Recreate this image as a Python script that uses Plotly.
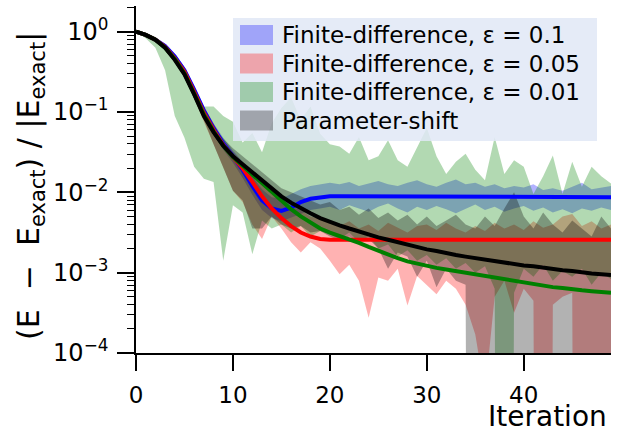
import plotly.graph_objects as go

# ---------------- data (log10 of relative error) ----------------
iterations = list(range(50))

fd01_mean_log10 = [0.00, -0.04, -0.10, -0.18, -0.31, -0.48, -0.72, -0.98, -1.20, -1.39,
                   -1.55, -1.72, -1.92, -2.10, -2.20, -2.23, -2.19, -2.12, -2.08, -2.06,
                   -2.05, -2.05, -2.05, -2.05, -2.05, -2.05, -2.05, -2.05, -2.05, -2.05,
                   -2.05, -2.05, -2.05, -2.05, -2.05, -2.05, -2.06, -2.06, -2.06, -2.06,
                   -2.06, -2.06, -2.06, -2.06, -2.06, -2.06, -2.06, -2.06, -2.06, -2.06]
fd01_hi_log10 = [0.00, -0.02, -0.07, -0.15, -0.27, -0.44, -0.67, -0.93, -1.14, -1.32,
                 -1.48, -1.62, -1.80, -1.96, -2.06, -2.08, -2.02, -1.96, -1.92, -1.90,
                 -1.88, -1.90, -1.87, -1.92, -1.89, -1.86, -1.90, -1.92, -1.88, -1.85,
                 -1.90, -1.93, -1.88, -1.84, -1.90, -1.88, -1.93, -1.90, -1.95, -1.92,
                 -1.94, -1.90, -1.97, -1.95, -1.98, -1.93, -1.88, -1.96, -1.94, -1.92]
fd01_lo_log10 = [0.00, -0.06, -0.13, -0.22, -0.36, -0.53, -0.78, -1.04, -1.27, -1.47,
                 -1.63, -1.82, -2.03, -2.22, -2.32, -2.36, -2.32, -2.27, -2.22, -2.20,
                 -2.18, -2.22, -2.16, -2.20, -2.24, -2.18, -2.14, -2.20, -2.25, -2.18,
                 -2.22, -2.17, -2.21, -2.26, -2.20, -2.15, -2.22, -2.18, -2.24, -2.20,
                 -2.17, -2.23, -2.19, -2.25, -2.21, -2.26, -2.20, -2.23, -2.19, -2.22]

fd005_mean_log10 = [0.00, -0.04, -0.10, -0.19, -0.33, -0.50, -0.75, -1.01, -1.22, -1.41,
                    -1.56, -1.70, -1.87, -2.05, -2.20, -2.32, -2.42, -2.50, -2.55, -2.58,
                    -2.59, -2.59, -2.59, -2.59, -2.59, -2.59, -2.59, -2.59, -2.59, -2.59,
                    -2.59, -2.59, -2.59, -2.59, -2.59, -2.59, -2.59, -2.59, -2.59, -2.59,
                    -2.59, -2.59, -2.59, -2.59, -2.59, -2.59, -2.59, -2.59, -2.59, -2.59]
fd005_hi_log10 = [0.00, -0.02, -0.07, -0.15, -0.28, -0.44, -0.68, -0.93, -1.14, -1.35,
                  -1.50, -1.62, -1.75, -1.90, -2.02, -2.10, -2.18, -2.22, -2.30, -2.33,
                  -2.38, -2.42, -2.36, -2.45, -2.40, -2.48, -2.38, -2.44, -2.50, -2.42,
                  -2.40, -2.47, -2.38, -2.45, -2.50, -2.42, -2.48, -2.38, -2.45, -2.40,
                  -2.47, -2.36, -2.44, -2.40, -2.30, -2.27, -2.42, -2.36, -2.45, -2.40]
fd005_lo_log10 = [0.00, -0.06, -0.13, -0.23, -0.38, -0.57, -0.83, -1.12, -1.40, -1.68,
                  -1.98, -2.12, -2.40, -2.58, -2.30, -2.45, -2.62, -2.75, -2.62, -2.70,
                  -2.85, -3.02, -2.90, -3.10, -3.56, -3.06, -3.10, -2.95, -3.41, -3.04,
                  -3.15, -3.27, -3.10, -3.20, -3.40, -3.77, -4.50, -3.30, -3.10, -3.50,
                  -3.20, -3.35, None, -3.40, -3.30, -3.25, None, None, None, None]

fd001_mean_log10 = [0.00, -0.04, -0.10, -0.20, -0.34, -0.52, -0.77, -1.03, -1.24, -1.42,
                    -1.56, -1.67, -1.77, -1.88, -1.99, -2.10, -2.21, -2.30, -2.38, -2.45,
                    -2.50, -2.54, -2.58, -2.63, -2.68, -2.73, -2.78, -2.82, -2.86, -2.89,
                    -2.92, -2.94, -2.96, -2.98, -3.01, -3.03, -3.05, -3.07, -3.09, -3.11,
                    -3.13, -3.15, -3.16, -3.18, -3.19, -3.21, -3.22, -3.23, -3.24, -3.25]
fd001_hi_log10 = [0.00, -0.02, -0.07, -0.17, -0.32, -0.52, -0.74, -0.93, -0.93, -1.05,
                  -1.12, -1.38, -1.26, -1.50, -1.14, -0.95, -0.82, -1.10, -0.93, -1.27,
                  -1.40, -1.43, -1.52, -1.31, -1.60, -1.55, -1.35, -1.60, -1.68, -1.45,
                  -1.20, -1.55, -1.77, -1.62, -1.52, -1.72, -1.85, -1.31, -1.77, -1.60,
                  -1.68, -2.02, -1.80, -1.54, -2.02, -1.62, -1.93, -1.68, -1.80, -1.89]
fd001_lo_log10 = [0.00, -0.08, -0.20, -0.48, -1.05, -1.32, -1.68, -1.83, -1.87, -2.85,
                  -2.16, -2.25, -2.77, -2.35, -2.45, -2.40, -2.50, -2.42, -2.55, -2.48,
                  -2.52, -2.58, -2.50, -2.62, -2.55, -2.70, -2.65, -2.80, -2.72, -2.85,
                  -2.78, -2.90, -2.82, -2.95, -2.88, -3.00, -2.92, -3.20, None, -3.25,
                  -2.95, -3.05, -2.90, -3.10, -2.98, -3.05, -2.95, -3.15, -3.00, -3.08]

ps_mean_log10 = [0.00, -0.04, -0.10, -0.20, -0.35, -0.53, -0.78, -1.05, -1.25, -1.42,
                 -1.55, -1.65, -1.76, -1.86, -1.96, -2.05, -2.13, -2.20, -2.26, -2.32,
                 -2.37, -2.41, -2.45, -2.49, -2.53, -2.56, -2.59, -2.62, -2.66, -2.69,
                 -2.71, -2.73, -2.76, -2.78, -2.80, -2.82, -2.84, -2.86, -2.87, -2.89,
                 -2.91, -2.92, -2.94, -2.95, -2.97, -2.98, -3.00, -3.01, -3.02, -3.03]
ps_hi_log10 = [0.00, -0.02, -0.07, -0.17, -0.32, -0.50, -0.74, -1.00, -1.18, -1.33,
               -1.45, -1.55, -1.65, -1.75, -1.85, -1.95, -2.00, -2.05, -2.10, -2.15,
               -2.12, -2.22, -2.18, -2.28, -2.20, -2.32, -2.25, -2.35, -2.28, -2.40,
               -2.30, -2.42, -2.35, -2.28, -2.40, -2.45, -2.30, -2.42, -2.20, -2.00,
               -2.30, -2.45, -2.25, -2.40, -2.50, -2.35, -2.45, -2.55, -2.30, -2.45]
ps_lo_log10 = [0.00, -0.06, -0.13, -0.23, -0.38, -0.57, -0.83, -1.10, -1.40, -1.70,
               -1.98, -2.10, -2.45, -2.45, -2.30, -2.40, -2.45, -2.42, -2.50, -2.48,
               -2.55, -2.60, -2.55, -2.62, -2.58, -2.70, -2.95, -2.75, -2.80, -3.05,
               -2.85, -3.18, -2.95, -3.10, -3.15, None, None, None, None, None,
               None, None, None, None, None, None, None, None, None, None]

series_names = ["Finite-difference, ε = 0.1", "Finite-difference, ε = 0.05",
                "Finite-difference, ε = 0.01", "Parameter-shift"]
series_rgb = [(0, 0, 255), (255, 0, 0), (0, 128, 0), (0, 0, 0)]

x_tickvals = [0, 10, 20, 30, 40]
y_tick_exponents = [0, -1, -2, -3, -4]

# ---------------- layout geometry ----------------
W, H = 618, 432
ML, MR, MT, MB = 136, 7, 6, 79
PW, PH = W - ML - MR, H - MT - MB
FONT = "DejaVu Sans"


def px_x(px):
    return (px - ML) / PW


def px_y(py):
    return (H - MB - py) / PH


def to_linear(vals):
    # non-positive lower bounds (None) are clipped far below the axis, like matplotlib
    return [1e-30 if v is None else 10.0 ** v for v in vals]


means = [fd01_mean_log10, fd005_mean_log10, fd001_mean_log10, ps_mean_log10]
his = [fd01_hi_log10, fd005_hi_log10, fd001_hi_log10, ps_hi_log10]
los = [fd01_lo_log10, fd005_lo_log10, fd001_lo_log10, ps_lo_log10]

fig = go.Figure()

for name, hi, lo, c in zip(series_names, his, los, series_rgb):
    fig.add_trace(go.Scatter(
        x=iterations + iterations[::-1],
        y=to_linear(hi) + to_linear(lo)[::-1],
        fill="toself", fillcolor=f"rgba({c[0]},{c[1]},{c[2]},0.3)",
        mode="lines", line=dict(width=0), hoverinfo="skip", showlegend=False, name=name))

for name, m, c in zip(series_names, means, series_rgb):
    fig.add_trace(go.Scatter(
        x=iterations, y=to_linear(m), mode="lines",
        line=dict(color=f"rgb({c[0]},{c[1]},{c[2]})", width=4),
        showlegend=False, name=name))

minor_vals = [k * 10.0 ** e for e in range(-4, 1) for k in range(2, 10)]

fig.update_layout(
    width=W, height=H,
    margin=dict(l=ML, r=MR, t=MT, b=MB),
    paper_bgcolor="white", plot_bgcolor="white",
    font=dict(family=FONT, color="black", size=23),
    showlegend=False,
    xaxis=dict(range=[0, 49], showgrid=False, zeroline=False, showline=True,
               linecolor="black", linewidth=1.6, ticks="outside", ticklen=16,
               tickwidth=1.6, tickcolor="black", tickvals=x_tickvals,
               tickfont=dict(size=23, family=FONT), ticklabelstandoff=5),
    yaxis=dict(type="log", range=[-4, 0.32], showgrid=False, zeroline=False,
               showline=True, linecolor="black", linewidth=1.6, ticks="outside",
               ticklen=17, tickwidth=1.6, tickcolor="black",
               tickvals=[10.0 ** e for e in y_tick_exponents],
               ticktext=[f"10<sup>{str(e).replace('-', '−')}</sup>" for e in y_tick_exponents],
               tickfont=dict(size=24, family=FONT), ticklabelstandoff=4,
               minor=dict(tickvals=minor_vals, ticks="outside", ticklen=7,
                          tickwidth=1.2, tickcolor="black", showgrid=False)),
)

annotations = [
    dict(text="Iteration", x=px_x(609), y=px_y(416), xref="paper", yref="paper",
         xanchor="right", yanchor="middle", showarrow=False,
         font=dict(size=28, family=FONT)),
    dict(text="(E  −  E<sub>exact</sub>) / |E<sub>exact</sub>|", x=px_x(30), y=px_y(186),
         xref="paper", yref="paper", xanchor="center", yanchor="middle",
         textangle=-90, showarrow=False, font=dict(size=30, family=FONT)),
]

shapes = [dict(type="rect", xref="paper", yref="paper", layer="above",
               x0=px_x(233), x1=px_x(597), y0=px_y(141), y1=px_y(18),
               fillcolor="rgba(224,232,246,0.85)", line=dict(width=0))]

row_centers = [35, 63.5, 92, 120.5]
for name, c, yc in zip(series_names, series_rgb, row_centers):
    shapes.append(dict(type="rect", xref="paper", yref="paper", layer="above",
                       x0=px_x(240), x1=px_x(273), y0=px_y(yc + 10), y1=px_y(yc - 10),
                       fillcolor=f"rgba({c[0]},{c[1]},{c[2]},0.3)", line=dict(width=0)))
    annotations.append(dict(text=name, x=px_x(280), y=px_y(yc), xref="paper", yref="paper",
                            xanchor="left", yanchor="middle", showarrow=False,
                            font=dict(size=23, family=FONT)))

fig.update_layout(annotations=annotations, shapes=shapes)
fig.write_html("out.html")
